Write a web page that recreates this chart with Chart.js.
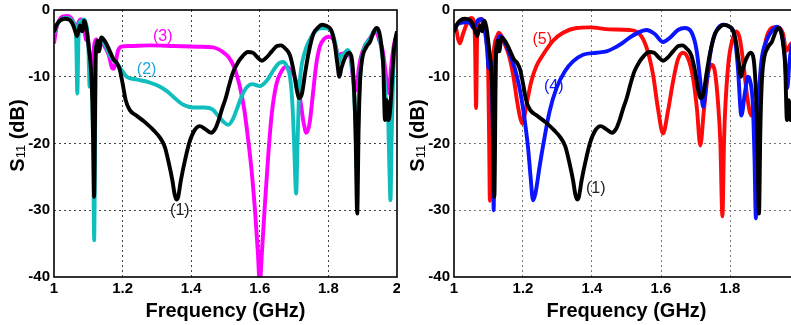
<!DOCTYPE html>
<html>
<head>
<meta charset="utf-8">
<script src="https://cdn.jsdelivr.net/npm/chart.js@4.4.1/dist/chart.umd.min.js"></script>
<style>
 html, body { margin:0; padding:0; background:#fff; overflow:hidden; }
 #wrap { position:relative; width:791px; height:325px; overflow:hidden; background:#fff; }
 canvas { position:absolute; top:0; }
 #leftChart { left:0; }
 #rightChart { left:400px; }
</style>
</head>
<body>
<div id="wrap">
 <canvas id="leftChart" width="400" height="325"></canvas>
 <canvas id="rightChart" width="410" height="325"></canvas>
</div>
<script>
'use strict';

// ticks
var xTicks = [1, 1.2, 1.4, 1.6, 1.8, 2];
var xTickLabels = ['1', '1.2', '1.4', '1.6', '1.8', '2'];
var yTicks = [0, -10, -20, -30, -40];
var yTickLabels = ['0', '-10', '-20', '-30', '-40'];

// curve (1) - shown in both panels
var freq1 = [1.000,1.008,1.017,1.031,1.046,1.055,1.062,1.067,1.072,1.076,1.082,1.088,1.094,1.101,1.108,1.112,1.115,1.117,1.119,1.121,1.124,1.127,1.131,1.138,1.151,1.163,1.174,1.184,1.192,1.200,1.209,1.221,1.240,1.265,1.290,1.310,1.323,1.335,1.345,1.352,1.357,1.362,1.370,1.382,1.395,1.410,1.425,1.440,1.458,1.470,1.480,1.490,1.500,1.512,1.523,1.537,1.550,1.565,1.580,1.595,1.606,1.620,1.635,1.650,1.662,1.675,1.688,1.700,1.708,1.715,1.723,1.732,1.742,1.756,1.770,1.781,1.795,1.808,1.818,1.826,1.832,1.838,1.848,1.860,1.868,1.874,1.879,1.884,1.888,1.892,1.898,1.910,1.922,1.932,1.940,1.948,1.955,1.960,1.965,1.970,1.975,1.980,1.986,1.992,2.000];
var s11_1 = [-3.3,-2.2,-1.6,-1.3,-1.5,-2.2,-3.2,-3.9,-3.0,-2.3,-3.2,-1.6,-2.6,-5.5,-9.0,-14,-22,-28,-20,-8,-5.2,-4.6,-6.2,-4.1,-4.9,-6.2,-7.4,-8.0,-9.0,-11.0,-13.5,-15.0,-15.8,-16.8,-18.0,-19.2,-20.5,-23.0,-25.5,-27.7,-28.4,-28.0,-25.5,-22.5,-19.8,-18.0,-17.4,-17.8,-18.4,-17.8,-16.5,-14.8,-13.3,-11.0,-9.2,-7.8,-6.9,-6.3,-6.4,-7.2,-7.6,-7.1,-6.2,-5.4,-5.3,-5.8,-6.8,-9.5,-12.0,-13.2,-12.5,-9.5,-6.5,-3.6,-2.6,-2.2,-2.4,-3.0,-5.0,-8.0,-10.0,-8.7,-7.2,-6.4,-7.2,-11.0,-18.0,-30.5,-18,-11,-7.5,-5.6,-4.7,-3.3,-2.7,-3.3,-5.5,-8.5,-16.5,-13.5,-16.5,-15,-10,-5.5,-3.2];

// curve (2)
var freq2 = [1.000,1.008,1.017,1.031,1.046,1.055,1.062,1.065,1.068,1.071,1.075,1.082,1.088,1.094,1.100,1.104,1.108,1.112,1.115,1.117,1.119,1.121,1.124,1.130,1.138,1.150,1.163,1.175,1.184,1.197,1.212,1.240,1.275,1.305,1.330,1.350,1.377,1.406,1.440,1.462,1.478,1.495,1.508,1.520,1.532,1.545,1.560,1.578,1.600,1.620,1.640,1.658,1.670,1.680,1.688,1.695,1.700,1.706,1.710,1.714,1.720,1.730,1.742,1.760,1.780,1.800,1.812,1.822,1.830,1.836,1.845,1.856,1.866,1.873,1.878,1.883,1.888,1.894,1.905,1.920,1.932,1.940,1.948,1.956,1.962,1.968,1.974,1.978,1.981,1.984,1.990,2.000];
var s11_2 = [-3.5,-2.3,-1.6,-1.2,-1.3,-1.8,-2.5,-5,-12.5,-5,-1.8,-1.6,-1.4,-2.2,-5,-11.5,-9,-13,-25,-34.5,-25,-9,-5.2,-5.5,-4.6,-5.4,-6.8,-7.6,-8.0,-9.0,-10.0,-10.4,-10.8,-11.4,-12.2,-13.1,-14.2,-14.6,-14.6,-14.9,-15.8,-16.8,-17.2,-16.5,-15.0,-13.2,-11.7,-11.1,-11.4,-10.6,-9.0,-7.9,-7.8,-8.6,-10,-14,-20,-27.5,-20,-13,-9,-6.5,-4.8,-3.3,-2.7,-2.8,-3.5,-5.5,-8.0,-7.0,-6.6,-6.0,-7.3,-11,-16,-24,-15,-9,-5.6,-4.4,-3.2,-2.8,-3.8,-6.5,-9,-13.5,-16,-24,-28.5,-20,-8.5,-4];

// curve (3)
var freq3 = [1.000,1.006,1.015,1.025,1.040,1.050,1.058,1.065,1.070,1.078,1.086,1.090,1.094,1.098,1.104,1.110,1.114,1.118,1.124,1.130,1.137,1.147,1.160,1.168,1.174,1.180,1.186,1.196,1.220,1.280,1.350,1.420,1.464,1.480,1.495,1.508,1.520,1.530,1.542,1.555,1.565,1.576,1.586,1.594,1.600,1.606,1.615,1.625,1.635,1.648,1.662,1.676,1.690,1.705,1.718,1.728,1.736,1.745,1.755,1.765,1.775,1.788,1.800,1.813,1.822,1.828,1.836,1.845,1.855,1.864,1.870,1.876,1.882,1.888,1.895,1.905,1.920,1.932,1.940,1.948,1.958,1.966,1.972,1.977,1.982,1.990,2.000];
var s11_3 = [-5.0,-3.0,-1.5,-1.0,-0.9,-1.2,-2.0,-3.0,-2.0,-1.4,-1.6,-3.5,-4.5,-4.0,-7,-10.5,-7,-5,-4.4,-6.2,-5.0,-5.4,-6.8,-8.5,-8.8,-7.8,-6.2,-5.5,-5.4,-5.3,-5.4,-5.5,-5.6,-5.9,-6.4,-7.0,-8.0,-9.3,-11.5,-15,-19,-24,-30,-36,-41,-36.5,-29,-21.5,-15.5,-11.2,-9.3,-8.5,-9.0,-10.5,-13.5,-17,-18.4,-17,-12.5,-8,-5.5,-4.3,-4.0,-4.3,-5.6,-7.0,-6.6,-6.5,-6.3,-7,-9.5,-11.5,-12,-9,-7,-5.5,-4.3,-3.5,-3.3,-4.5,-6,-9,-11.5,-12.5,-9,-5.5,-3.5];

// curve (4)
var freq4 = [1.000,1.012,1.025,1.041,1.050,1.056,1.062,1.070,1.079,1.086,1.092,1.097,1.100,1.104,1.110,1.113,1.115,1.117,1.120,1.124,1.134,1.142,1.150,1.164,1.176,1.190,1.200,1.208,1.215,1.222,1.229,1.236,1.248,1.260,1.277,1.297,1.321,1.345,1.374,1.413,1.442,1.471,1.490,1.510,1.530,1.558,1.582,1.606,1.625,1.649,1.669,1.688,1.703,1.714,1.722,1.732,1.746,1.761,1.780,1.799,1.814,1.823,1.833,1.843,1.852,1.860,1.866,1.871,1.875,1.879,1.885,1.891,1.906,1.925,1.935,1.949,1.958,1.966,1.972,1.978,1.990,2.000];
var s11_4 = [-2.9,-2.1,-1.9,-1.8,-2.2,-2.7,-2.3,-1.5,-1.35,-2.4,-4.0,-6.5,-8.7,-7.5,-11,-20,-30,-20,-9,-5.8,-3.9,-4.3,-5.1,-6.9,-8.7,-11.7,-14.7,-17.7,-20.8,-25,-28.5,-27.5,-23.5,-19.8,-15.2,-11.7,-9.2,-7.7,-6.7,-6.4,-6.2,-5.5,-4.9,-4.1,-3.5,-3.0,-3.6,-4.8,-4.2,-3.0,-2.7,-3.3,-6.0,-10.7,-14.5,-10.7,-5.6,-3.1,-2.2,-2.5,-4.1,-8.7,-15.8,-12.5,-10.0,-11,-14,-22,-31.2,-22,-12,-7.7,-4.6,-2.9,-2.5,-3.4,-6.6,-11.7,-8,-5.6,-4,-3.5];

// curve (5)
var freq5 = [1.000,1.007,1.012,1.017,1.026,1.041,1.050,1.057,1.061,1.064,1.067,1.071,1.079,1.087,1.094,1.099,1.102,1.104,1.107,1.111,1.118,1.125,1.130,1.137,1.147,1.161,1.173,1.183,1.192,1.198,1.205,1.212,1.224,1.239,1.258,1.287,1.316,1.355,1.393,1.451,1.509,1.538,1.558,1.577,1.591,1.606,1.620,1.635,1.649,1.664,1.678,1.693,1.704,1.714,1.724,1.736,1.746,1.756,1.765,1.772,1.778,1.783,1.794,1.809,1.818,1.828,1.838,1.848,1.857,1.863,1.869,1.876,1.882,1.891,1.906,1.925,1.939,1.954,1.963,1.976,1.990,2.000];
var s11_5 = [-2.2,-3.0,-4.4,-5.0,-3.6,-1.6,-1.2,-1.6,-5,-14.7,-4,-1.8,-1.35,-2.0,-4.6,-8.7,-20,-28.6,-20,-9.7,-5.1,-3.9,-3.4,-3.8,-5.1,-7.1,-10.2,-13.7,-16.2,-17.0,-15.7,-13.7,-10.7,-8.4,-6.7,-4.6,-3.4,-2.7,-2.6,-2.9,-3.0,-3.6,-5.6,-9.7,-14.7,-18.5,-15.2,-10.7,-7.4,-6.4,-7.2,-10.2,-14.7,-20.3,-15.2,-9.7,-8.2,-9.2,-13.7,-19.8,-30.9,-19,-8.7,-4.1,-3.2,-4.2,-7.7,-12.2,-15.2,-15.8,-14,-18.5,-13,-8.7,-4.1,-2.6,-2.6,-3.6,-6.1,-5.1,-4.5,-4];

// curve labels, anchored at data values
var leftNoteText = ['(1)', '(2)', '(3)'];
var leftNoteFreq = [1.367, 1.27, 1.317];
var leftNoteDb = [-30.1, -8.9, -4.0];
var rightNoteText = ['(1)', '(4)', '(5)'];
var rightNoteFreq = [1.411, 1.289, 1.256];
var rightNoteDb = [-26.8, -11.5, -4.5];

var FONT = '"Liberation Sans", Arial, Helvetica, sans-serif';

function toPoints(fs, vs) {
  return fs.map(function(f, i) { return {x: f, y: vs[i]}; });
}

function curve(fs, vs, color) {
  return {
    data: toPoints(fs, vs),
    borderColor: color,
    borderWidth: 3.9,
    pointRadius: 0,
    fill: false,
    cubicInterpolationMode: 'monotone'
  };
}

// labels "(1)" ... on the plot
var notePlugin = {
  id: 'notes',
  afterDatasetsDraw: function(chart, args, opts) {
    var ctx = chart.ctx, xs = chart.scales.x, ys = chart.scales.y;
    ctx.save();
    ctx.font = '16px ' + FONT;
    ctx.textAlign = 'center';
    ctx.textBaseline = 'middle';
    opts.text.forEach(function(t, i) {
      ctx.fillStyle = opts.color[i];
      ctx.fillText(t, xs.getPixelForValue(opts.freq[i]), ys.getPixelForValue(opts.db[i]));
    });
    ctx.restore();
  }
};

// black frame + axis titles
var framePlugin = {
  id: 'frame',
  afterDraw: function(chart) {
    var ctx = chart.ctx, a = chart.chartArea;
    ctx.save();
    ctx.strokeStyle = '#000';
    ctx.lineWidth = 1.6;
    ctx.strokeRect(a.left, a.top, a.right - a.left, a.bottom - a.top);

    ctx.fillStyle = '#000';
    ctx.font = 'bold 20px ' + FONT;
    ctx.textAlign = 'center';
    ctx.textBaseline = 'middle';
    ctx.fillText('Frequency (GHz)', (a.left + a.right) / 2, 311);

    // S11 (dB), rotated, with small "11"
    var big = 'bold 20px ' + FONT, small = '13px ' + FONT;
    ctx.font = big; var w1 = ctx.measureText('S').width; var w3 = ctx.measureText(' (dB)').width;
    ctx.font = small; var w2 = ctx.measureText('11').width;
    var total = w1 + w2 + w3;
    ctx.translate(17, (a.top + a.bottom) / 2 - 8);
    ctx.rotate(-Math.PI / 2);
    ctx.textAlign = 'left';
    ctx.textBaseline = 'alphabetic';
    var x0 = -total / 2;
    ctx.font = big; ctx.fillText('S', x0, 7);
    ctx.font = small; ctx.fillText('11', x0 + w1, 8);
    ctx.font = big; ctx.fillText(' (dB)', x0 + w1 + w2, 7);
    ctx.restore();
  }
};

function makeChart(id, datasets, notes, gridColor, padRight) {
  var hideEdge = function(c) {
    var v = c.tick ? c.tick.value : null;
    return (v === 1 || v === 2 || v === 0 || v === -40) ? 'rgba(0,0,0,0)' : gridColor;
  };
  return new Chart(id, {
    type: 'line',
    data: { datasets: datasets },
    options: {
      responsive: false,
      animation: false,
      events: [],
      layout: { padding: { left: 0, top: 10, right: padRight, bottom: 0 } },
      plugins: { legend: { display: false }, tooltip: { enabled: false }, notes: notes },
      scales: {
        x: {
          type: 'linear', min: 1, max: 2,
          afterBuildTicks: function(s) { s.ticks = xTicks.map(function(v) { return {value: v}; }); },
          afterFit: function(s) { s.height = 48; s.paddingLeft = 0; s.paddingRight = 0; },
          ticks: {
            autoSkip: false, maxRotation: 0, padding: 3, color: '#000',
            font: { family: FONT, size: 15, weight: 'bold' },
            callback: function(v, i) { return xTickLabels[i]; }
          },
          grid: { color: hideEdge, lineWidth: 1, drawTicks: false },
          border: { display: false, dash: [2, 3] }
        },
        y: {
          type: 'linear', min: -40, max: 0,
          afterBuildTicks: function(s) { s.ticks = yTicks.map(function(v) { return {value: v}; }); },
          afterFit: function(s) { s.width = 54; s.paddingTop = 0; s.paddingBottom = 0; },
          ticks: {
            padding: 4, color: '#000',
            font: { family: FONT, size: 15, weight: 'bold' },
            callback: function(v, i) { return yTickLabels[i]; }
          },
          grid: { color: hideEdge, lineWidth: 1, drawTicks: false },
          border: { display: false, dash: [2, 3] }
        }
      }
    },
    plugins: [notePlugin, framePlugin]
  });
}

// left panel: (1) on top, then (2), then (3)
makeChart('leftChart', [
  curve(freq1, s11_1, '#000000'),
  curve(freq2, s11_2, '#10bebe'),
  curve(freq3, s11_3, '#ff00ff')
], {
  text: leftNoteText, freq: leftNoteFreq, db: leftNoteDb,
  color: ['#222222', '#1ea7e1', '#ff00ff']
}, '#444444', 3);

// right panel: (1) on top, then (4), then (5)
makeChart('rightChart', [
  curve(freq1, s11_1, '#000000'),
  curve(freq4, s11_4, '#0a14ff'),
  curve(freq5, s11_5, '#ff0a0a')
], {
  text: rightNoteText, freq: rightNoteFreq, db: rightNoteDb,
  color: ['#222222', '#0a14ff', '#ff0a0a']
}, '#777777', 11);
</script>
</body>
</html>
